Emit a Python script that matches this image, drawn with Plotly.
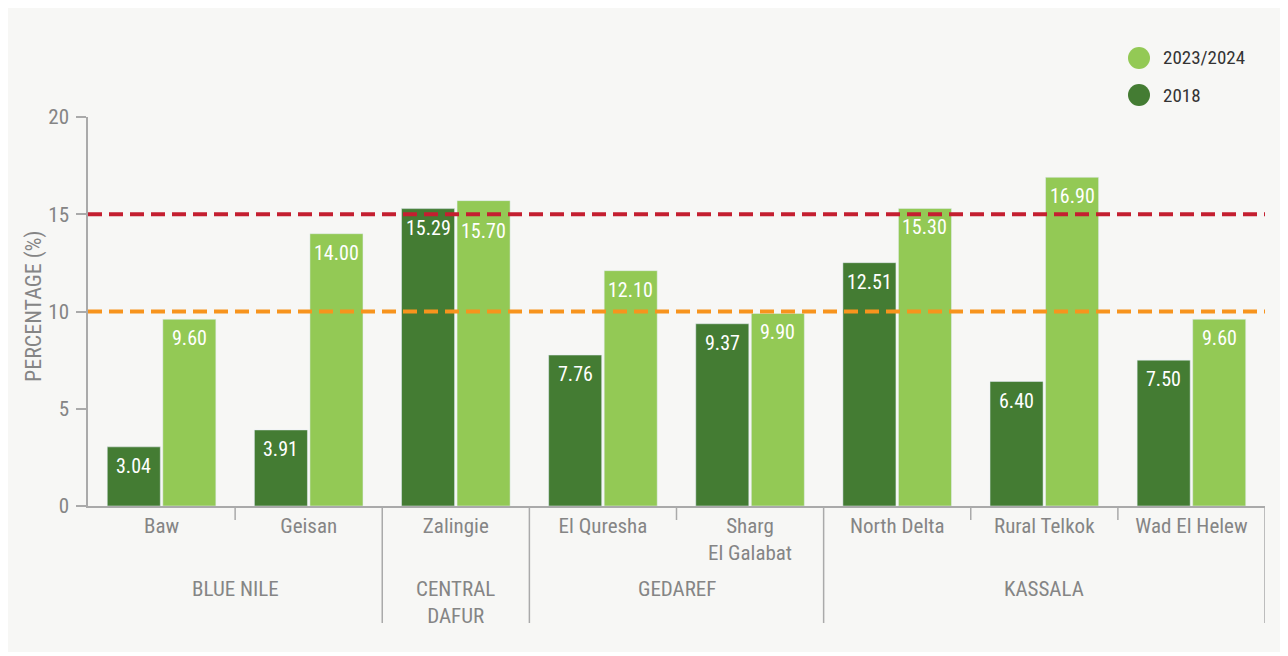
import plotly.graph_objects as go

sites = ["Baw", "Geisan", "Zalingie", "El Quresha", "Sharg<br>El Galabat",
         "North Delta", "Rural Telkok", "Wad El Helew"]
v2018 = [3.04, 3.91, 15.29, 7.76, 9.37, 12.51, 6.40, 7.50]
v2023 = [9.60, 14.00, 15.70, 12.10, 9.90, 15.30, 16.90, 9.60]
groups = ["BLUE NILE", "CENTRAL<br>DAFUR", "GEDAREF", "KASSALA"]
group_spans = [(0, 1), (2, 2), (3, 4), (5, 7)]
thresholds = [15, 10]
threshold_colors = ["#c41f30", "#f7941d"]
legend_labels = ["2023/2024", "2018"]

DARK = "#447c33"
LIGHT = "#93c955"
legend_colors = [LIGHT, DARK]
GRAY = "#858585"
AX = "#aaaaaa"
FONT = "Roboto Condensed, Liberation Sans Narrow, DejaVu Sans Condensed, Roboto, sans-serif"

# page body has an 8px margin; figure is 1280x648 placed at (8, 8)
W, H = 1280, 648
L, T, R, B = 80, 109, 23, 150
PW, PH = W - L - R, H - T - B
YMAX = 20
BARGAP = 0.245
UNIT = PH / YMAX  # pixels per percentage point


def px(fx):
    return (fx - L) / PW


def py(fy):
    return (H - B - fy) / PH


fig = go.Figure()
fig.add_trace(go.Bar(x=sites, y=v2018, name="2018", marker_color=DARK, showlegend=False))
fig.add_trace(go.Bar(x=sites, y=v2023, name="2023/2024", marker_color=LIGHT, showlegend=False))

shapes = []
# outer panel
shapes.append(dict(type="rect", xref="paper", yref="paper",
                   x0=px(-4), x1=px(W - 4), y0=py(H - 4), y1=py(-4),
                   fillcolor="#f7f7f5", line=dict(width=0), layer="below"))
# threshold lines
for t, c in zip(thresholds, threshold_colors):
    shapes.append(dict(type="line", xref="paper", yref="y", x0=0, x1=1, y0=t, y1=t,
                       line=dict(color=c, width=4, dash="14px,7px"), layer="above"))
# group separators
for (a, b) in group_spans[1:]:
    shapes.append(dict(type="line", xref="x", yref="paper", x0=a - 0.5, x1=a - 0.5,
                       y0=0, y1=-117 / PH, line=dict(color=AX, width=1.5)))
shapes.append(dict(type="line", xref="x", yref="paper", x0=7.5, x1=7.5,
                   y0=0, y1=-117 / PH, line=dict(color=AX, width=1.5)))
# short ticks within groups
for (a, b) in group_spans:
    for k in range(a, b):
        shapes.append(dict(type="line", xref="x", yref="paper", x0=k + 0.5, x1=k + 0.5,
                           y0=0, y1=-14 / PH, line=dict(color=AX, width=1.5)))

annotations = []
# value labels inside bar tops (kept clear of the threshold lines)
half = (1 - BARGAP) / 4
for series, sign in ((v2018, -1), (v2023, 1)):
    for i, v in enumerate(series):
        c = v - 19 / UNIT
        for t in thresholds:
            if abs(c - t) < 12 / UNIT:
                c = t - 17 / UNIT
        annotations.append(dict(x=i + sign * half, xref="x", y=c, yref="y",
                                text=f"{v:.2f}", showarrow=False,
                                xanchor="center", yanchor="middle",
                                font=dict(size=20, color="white", family=FONT)))

for g, (a, b) in zip(groups, group_spans):
    annotations.append(dict(x=(a + b) / 2, xref="x", y=-(575 - 506) / PH, yref="paper",
                            text=g, showarrow=False, yanchor="top",
                            font=dict(size=21, color=GRAY, family=FONT)))
annotations.append(dict(x=px(34 - 8), xref="paper", y=py(306 - 8), yref="paper",
                        text="PERCENTAGE (%)", textangle=-90, showarrow=False,
                        xanchor="center", yanchor="middle",
                        font=dict(size=22, color=GRAY, family=FONT)))

# legend (circles + labels)
for i, (lab, col) in enumerate(zip(legend_labels, legend_colors)):
    cy = 58 - 8 + i * 37
    shapes.append(dict(type="circle", xref="paper", yref="paper",
                       xsizemode="pixel", ysizemode="pixel",
                       xanchor=px(1139 - 8), yanchor=py(cy),
                       x0=-11, x1=11, y0=-11, y1=11,
                       fillcolor=col, line=dict(width=0)))
    annotations.append(dict(x=px(1161 - 8), xref="paper", y=py(cy), yref="paper",
                            text=lab, showarrow=False, xanchor="left", yanchor="middle",
                            font=dict(size=19, color="#333333", family=FONT)))

fig.update_layout(
    width=W, height=H,
    margin=dict(l=L, r=R, t=T, b=B, autoexpand=False),
    paper_bgcolor="white", plot_bgcolor="rgba(0,0,0,0)",
    barmode="group", bargap=BARGAP, bargroupgap=0.045,
    font=dict(family=FONT, color=GRAY),
    shapes=shapes, annotations=annotations,
    showlegend=False,
    xaxis=dict(range=[-0.5, 7.5], showgrid=False, ticks="", showline=True,
               linecolor=AX, linewidth=1.5,
               tickfont=dict(size=21, color=GRAY, family=FONT), ticklabelstandoff=0),
    yaxis=dict(range=[0, YMAX], tickvals=[0, 5, 10, 15, 20], showgrid=False, zeroline=False,
               showline=True, linecolor=AX, linewidth=1.5, ticks="outside", ticklen=10,
               tickcolor=AX, tickwidth=1.5, ticklabelstandoff=3,
               tickfont=dict(size=21, color=GRAY, family=FONT)),
)

fig.write_html("out.html")
